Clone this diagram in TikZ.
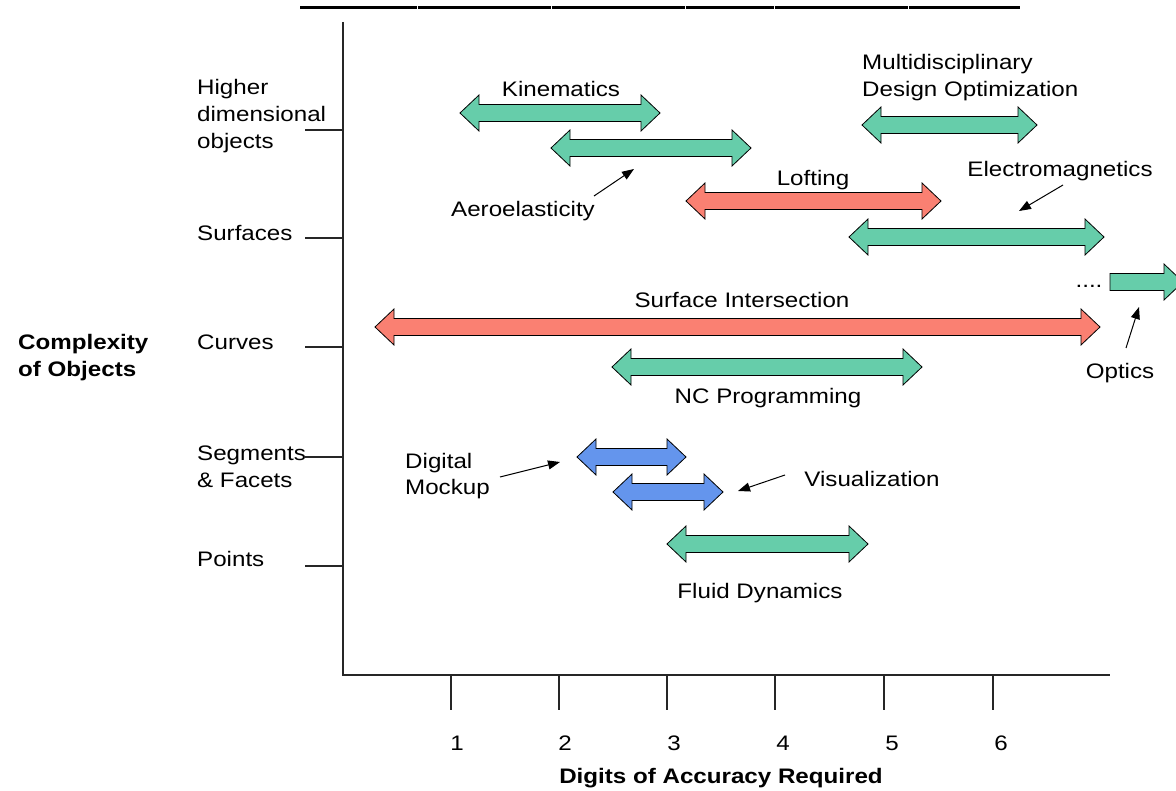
\documentclass[tikz,border=0pt]{standalone}
\usepackage{fontspec}
\setmainfont[FakeStretch=1.15]{Liberation Sans}
\usetikzlibrary{arrows.meta}
\definecolor{grn}{HTML}{66CDAA}
\definecolor{rd}{HTML}{FA8072}
\definecolor{blu}{HTML}{6495ED}
\tikzset{
  barrow/.style={draw=black, line width=0.8pt, line join=miter},
  lbl/.style={font=\fontsize{21}{27}\selectfont, inner sep=0pt, anchor=base},
  lbll/.style={lbl, anchor=base west},
  bold/.style={font=\fontsize{21}{27}\selectfont\bfseries, inner sep=0pt, anchor=base},
  ann/.style={draw=black, line width=1pt, -{Triangle[length=12pt,width=9pt]}},
  axisline/.style={draw=black!85, line width=1.2pt},
  topline/.style={draw=black, line width=3pt},
}
\newcommand\dblarrow[4]{\filldraw[barrow,fill=#4] (#1,#3) -- ({#1+19},{#3-18}) -- ({#1+19},{#3-8.5}) -- ({#2-19},{#3-8.5}) -- ({#2-19},{#3-18}) -- (#2,#3) -- ({#2-19},{#3+18}) -- ({#2-19},{#3+8.5}) -- ({#1+19},{#3+8.5}) -- ({#1+19},{#3+18}) -- cycle;}
\begin{document}
\begin{tikzpicture}[x=1pt,y=-1pt]
\useasboundingbox (0,0) rectangle (1176,791);
\clip (0,0) rectangle (1176,791);
% top rule
\foreach \a/\b in {300/416.5, 417.5/550.5, 551.5/684.5, 685.5/773.5, 774.5/907.5, 908.5/1020}
  \draw[topline] (\a,8) -- (\b,8);
% axes
\draw[axisline] (343,22) -- (343,675) -- (1110,675);
\foreach \y in {130,238,347,457,566} \draw[axisline] (305,\y) -- (343,\y);
\foreach \x in {451,559,667,775,884,993} \draw[axisline] (\x,675) -- (\x,710);
\foreach \x/\t in {457/1,565/2,674/3,783/4,892/5,1001/6} \node[lbl] (t\t) at (\x,750) {\t};
\node[bold] (xlab) at (721,783) {Digits of Accuracy Required};
\node[bold, anchor=base west] (ylab1) at (18,350) {Complexity};
\node[bold, anchor=base west] (ylab2) at (18,377) {of Objects};
% row labels
\node[lbll] (h1) at (197,95) {Higher};
\node[lbll] (h2) at (197,122) {dimensional};
\node[lbll] (h3) at (197,149) {objects};
\node[lbll] (surf) at (197,241) {Surfaces};
\node[lbll] (curv) at (197,350) {Curves};
\node[lbll] (seg1) at (197,461) {Segments};
\node[lbll] (seg2) at (197,488) {\& Facets};
\node[lbll] (pts) at (197,566) {Points};
% bars
\dblarrow{460}{660}{113}{grn}
\dblarrow{551}{751}{148}{grn}
\dblarrow{686}{941}{201}{rd}
\dblarrow{862}{1037}{125}{grn}
\dblarrow{849}{1104}{237}{grn}
\dblarrow{375}{1100}{327}{rd}
\dblarrow{612}{922}{367}{grn}
\dblarrow{577}{686}{457}{blu}
\dblarrow{613}{723}{492}{blu}
\dblarrow{667}{868}{544}{grn}
\filldraw[barrow,fill=grn] (1110,273.5) -- (1164,273.5) -- (1164,264) -- (1183,282) -- (1164,300) -- (1164,290.5) -- (1110,290.5) -- cycle;
% bar labels
\node[lbl] (kin) at (561,97) {Kinematics};
\node[lbll] (mdo1) at (862,70) {Multidisciplinary};
\node[lbll] (mdo2) at (862,97) {Design Optimization};
\node[lbl] (aero) at (523,217) {Aeroelasticity};
\node[lbl] (loft) at (813,186) {Lofting};
\node[lbl] (em) at (1060,177) {Electromagnetics};
\node[lbl] (si) at (742,308) {Surface Intersection};
\node[lbl] (nc) at (768,404) {NC Programming};
\node[lbl] (dots) at (1089,288) {....};
\node[lbl] (opt) at (1120,379) {Optics};
\node[lbll] (dm1) at (405,468) {Digital};
\node[lbll] (dm2) at (405,495) {Mockup};
\node[lbl] (vis) at (872,487) {Visualization};
\node[lbl] (fd) at (760,598) {Fluid Dynamics};
% pointers
\coordinate (aeroT) at (594,196); \coordinate (aeroH) at (634,169);
\coordinate (emT) at (1063,185); \coordinate (emH) at (1019,211);
\coordinate (optT) at (1126,348); \coordinate (optH) at (1139,307);
\coordinate (dmT) at (500,477); \coordinate (dmH) at (560,462);
\coordinate (visT) at (785,475); \coordinate (visH) at (738,491);
\draw[ann] (aeroT) -- (aeroH);
\draw[ann] (emT) -- (emH);
\draw[ann] (optT) -- (optH);
\draw[ann] (dmT) -- (dmH);
\draw[ann] (visT) -- (visH);
\end{tikzpicture}
\end{document}
